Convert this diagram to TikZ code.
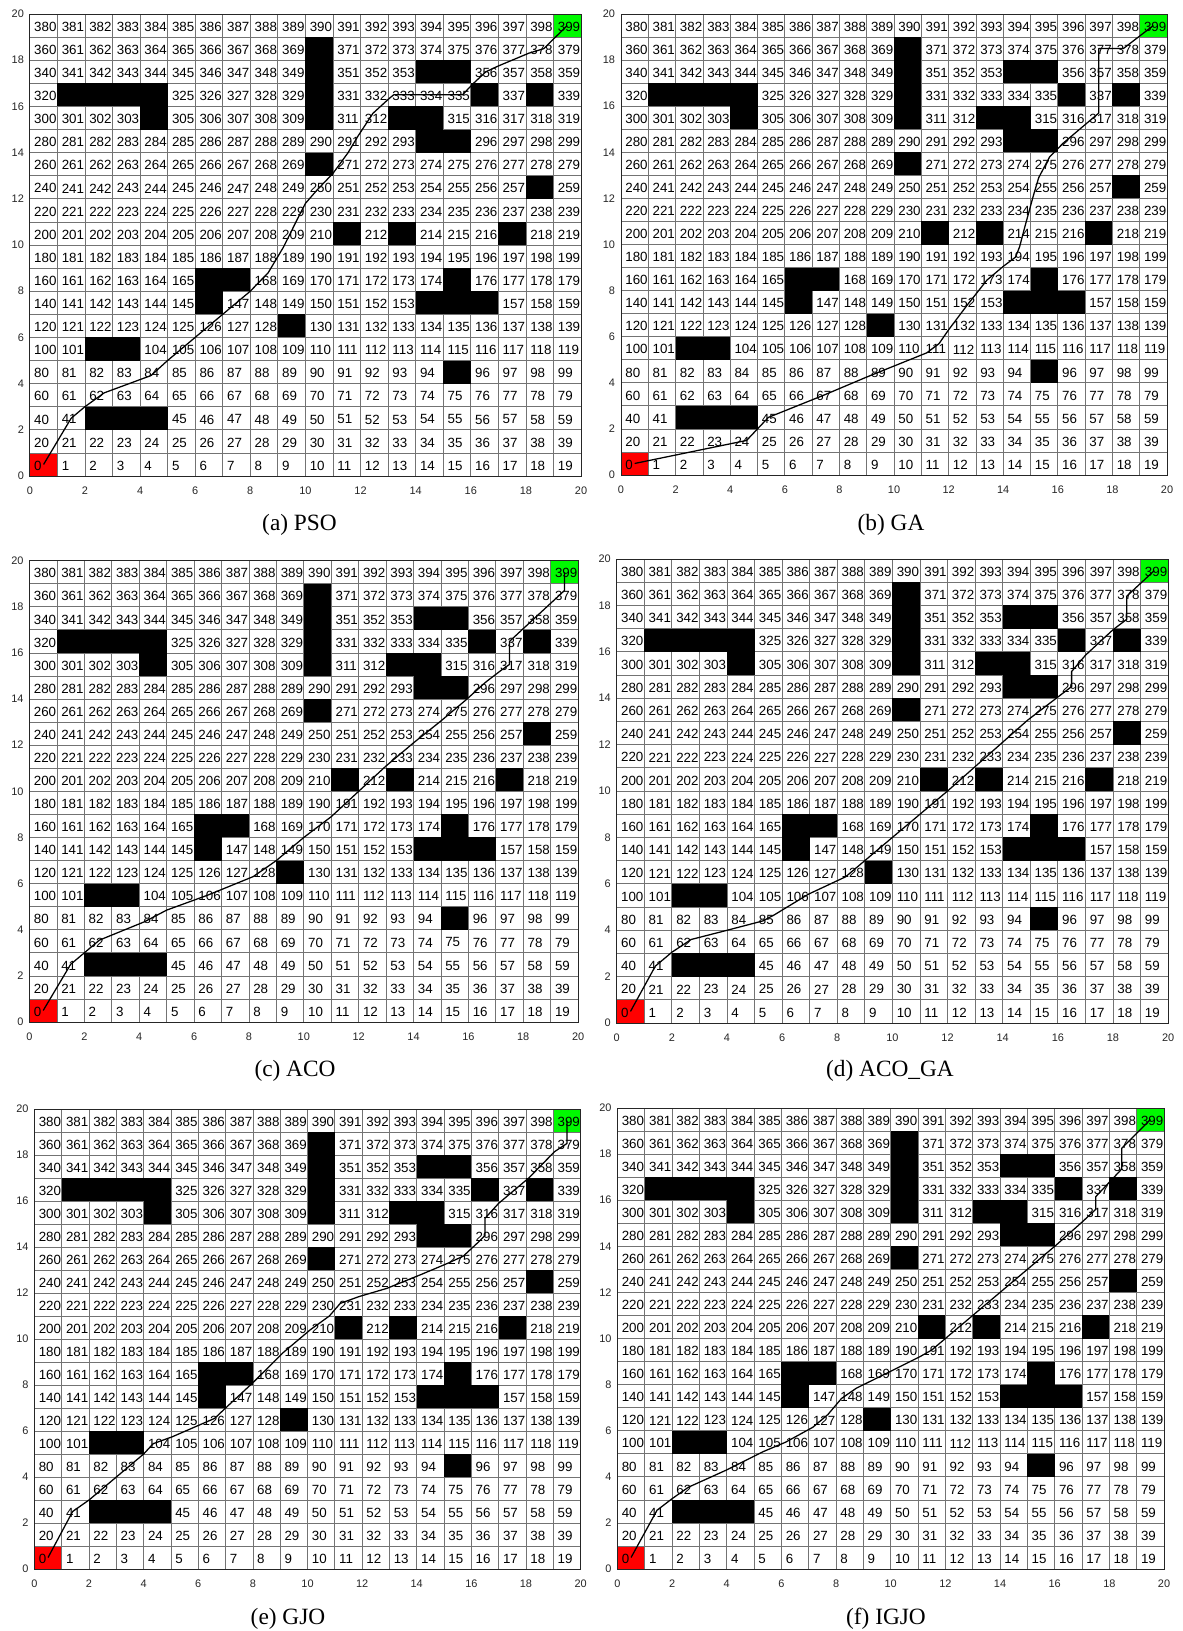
\documentclass[tikz,border=0pt]{standalone}
\usepackage{fontspec}
\setmainfont{Liberation Serif}
\newfontfamily\numfont{Liberation Sans}
\usetikzlibrary{positioning}
\definecolor{startred}{RGB}{255,0,0}
\definecolor{goalgreen}{RGB}{0,250,0}
\definecolor{gridgray}{RGB}{115,115,115}
\tikzset{cellnum/.style = {anchor=west, inner sep=0pt,
                           font=\numfont\fontsize{10}{11}\selectfont}}
\tikzset{ticknum/.style = {inner sep=0pt, text=black!85,
                           font=\numfont\fontsize{8.2}{9}\selectfont}}
\tikzset{gridline/.style = {draw=gridgray, line width=0.55pt}}
\tikzset{route/.style = {draw=black, line width=0.95pt, line join=round}}
\tikzset{caption/.style = {inner sep=0pt, font=\fontsize{17.5}{19}\selectfont}}

\newcommand{\obstaclelist}{42,43,44,95,102,103,129,146,154,155,156,166,167,175,%
211,213,217,258,270,294,295,304,310,313,314,321,322,323,324,330,336,338,%
350,354,355,370}

% #1 left, #2 bottom, #3 cell width, #4 cell height (px), #5 route
\newcommand{\drawmap}[5]{%
  \begin{scope}[shift={(#1,#2)}, xscale=#3, yscale=-#4]
    \fill[startred] (0,0) rectangle (1,1);
    \fill[goalgreen] (19,19) rectangle (20,20);
    \foreach \k in {0,...,20} {
      \draw[gridline] (\k,0) -- (\k,20);
      \draw[gridline] (0,\k) -- (20,\k);
    }
    \foreach \n in {0,...,399} {
      \pgfmathtruncatemacro{\cc}{mod(\n,20)}
      \pgfmathtruncatemacro{\rr}{(\n-\cc)/20+0.01}
      \node[cellnum] at (\cc+0.15,\rr+0.45) {\n};
    }
    \foreach \n in \obstaclelist {
      \pgfmathtruncatemacro{\cc}{mod(\n,20)}
      \pgfmathtruncatemacro{\rr}{(\n-\cc)/20+0.01}
      \fill[black] (\cc,\rr) rectangle (\cc+1,\rr+1);
    }
    \draw[draw=black!85, line width=0.6pt] (0,0) rectangle (20,20);
    \foreach \t in {0,2,...,20} {
      \node[ticknum] at (\t,{-15/#4}) {\t};
      \node[ticknum, anchor=east] at ({-5.7/#3},\t) {\t};
    }
    \draw[route] #5;
  \end{scope}}

\begin{document}
\begin{tikzpicture}[x=0.75pt, y=-0.75pt]
  \useasboundingbox (0,0) rectangle (1182,1631);
  \fill[white] (0,0) rectangle (1182,1631);

  % (a) PSO
  \drawmap{29.8}{476}{27.56}{23.1}{(0.5,0.5) -- (1.5,2.5) -- (2.0,3.0) -- (2.7,3.6)
    -- (4.4,4.35) -- (5.0,5.0) -- (6.5,6.5) -- (8.0,8.0) -- (8.65,8.8) -- (9.2,9.9)
    -- (9.7,11.1) -- (10.0,11.8) -- (10.4,12.35) -- (11.0,13.1) -- (11.55,14.0)
    -- (11.9,14.7) -- (12.45,15.7) -- (13.0,16.3) -- (13.2,16.5) -- (15.7,16.5)
    -- (16.1,17.0) -- (16.55,17.5) -- (17.0,17.75) -- (18.1,18.3) -- (18.65,18.5)
    -- (19.5,19.5)}
  \node[caption] (cap-a) at (299.5,525) {(a) PSO};

  % (b) GA
  \drawmap{621}{475}{27.3}{23.05}{(0.5,0.5) -- (4.6,1.5) -- (5.4,2.5) -- (7.4,3.45)
    -- (9.0,4.25) -- (11.2,5.3) -- (11.65,5.7) -- (12.0,6.3) -- (12.7,7.4)
    -- (13.4,8.45) -- (14.0,9.05) -- (14.45,9.45) -- (14.6,9.9) -- (14.8,10.8)
    -- (15.1,12.1) -- (15.3,12.9) -- (15.7,13.8) -- (16.2,14.4) -- (16.9,15.1)
    -- (17.5,15.7) -- (17.5,18.5) -- (18.4,18.5) -- (19.5,19.5)}
  \node[caption] (cap-b) at (891,525) {(b) GA};

  % (c) ACO
  \drawmap{29.5}{1022}{27.43}{23.07}{(0.5,0.5) -- (1.5,2.5) -- (2.0,3.0) -- (2.55,3.55)
    -- (4.2,4.35) -- (5.0,4.85) -- (6.5,5.5) -- (8.15,6.3) -- (8.7,6.75) -- (9.0,7.0)
    -- (10.0,8.0) -- (11.0,8.9) -- (12.0,10.0) -- (13.0,11.1) -- (14.0,12.1)
    -- (15.0,13.05) -- (15.9,13.95) -- (16.65,14.75) -- (17.2,15.25) -- (17.5,15.5)
    -- (17.5,16.5) -- (19.0,18.15) -- (19.5,18.7) -- (19.5,19.5)}
  \node[caption] (cap-c) at (295,1071) {(c) ACO};

  % (d) ACO_GA
  \drawmap{616.7}{1023}{27.57}{23.2}{(0.5,0.5) -- (1.4,2.45) -- (2.0,3.05) -- (2.7,3.6)
    -- (3.85,3.95) -- (5.3,4.4) -- (5.7,4.65) -- (6.95,5.55) -- (8.3,6.3) -- (9.0,7.0)
    -- (12.0,10.0) -- (14.9,13.05) -- (16.0,14.05) -- (16.5,14.5) -- (16.5,15.15)
    -- (17.0,15.85) -- (18.0,16.95) -- (18.5,17.4) -- (18.5,18.4) -- (19.5,19.5)}
  \node[caption] (cap-d) at (890,1071) {(d) ACO\_GA};

  % (e) GJO
  \drawmap{34.4}{1569}{27.31}{23.0}{(0.5,0.5) -- (1.4,2.5) -- (2.0,3.0) -- (4.0,5.0)
    -- (4.35,5.45) -- (5.05,5.75) -- (6.6,6.55) -- (7.0,7.0) -- (8.0,8.1) -- (9.1,9.4)
    -- (10.1,10.4) -- (10.8,11.0) -- (11.2,11.55) -- (11.9,11.85) -- (12.9,12.2)
    -- (14.15,12.8) -- (15.15,13.3) -- (15.7,13.6) -- (16.2,14.15) -- (16.5,14.5)
    -- (16.5,15.25) -- (17.0,15.9) -- (18.1,17.0) -- (19.05,18.15) -- (19.5,18.5)
    -- (19.5,19.5)}
  \node[caption] (cap-e) at (288,1619) {(e) GJO};

  % (f) IGJO
  \drawmap{617.4}{1569}{27.33}{23.05}{(0.5,0.5) -- (1.45,2.55) -- (2.0,3.05) -- (2.6,3.55)
    -- (4.0,4.3) -- (5.35,5.1) -- (6.15,5.5) -- (7.15,6.15) -- (7.7,6.7) -- (8.2,7.4)
    -- (8.75,7.85) -- (9.95,8.55) -- (11.05,9.2) -- (11.5,9.5) -- (12.05,10.05)
    -- (16.05,14.05) -- (17.0,15.05) -- (17.5,15.6) -- (17.5,16.15) -- (18.45,17.35)
    -- (18.45,18.25) -- (19.5,19.5)}
  \node[caption] (cap-f) at (886,1619) {(f) IGJO};
\end{tikzpicture}
\end{document}
